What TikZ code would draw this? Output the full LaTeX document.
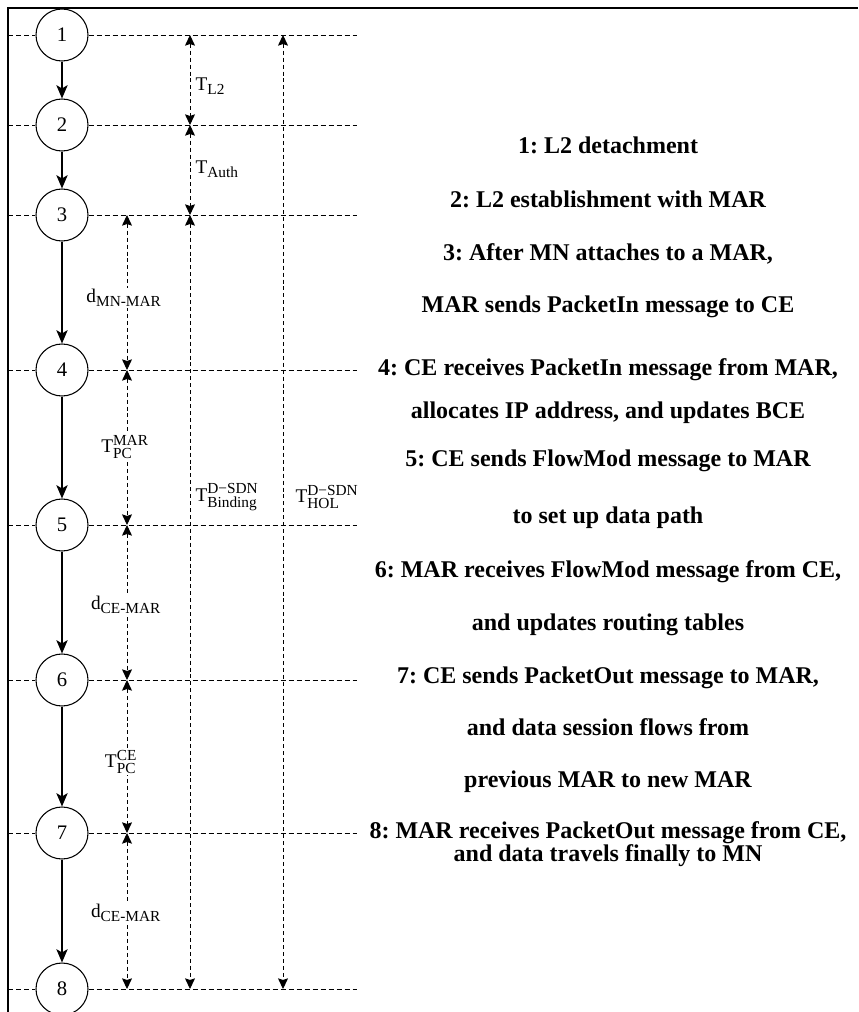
\documentclass[tikz,border=0pt]{standalone}
\usepackage{fontspec}
\setmainfont{Liberation Serif}
\usepackage{amsmath}
\usetikzlibrary{arrows.meta}
\usetikzlibrary{calc}
\newcommand{\sml}[1]{\hbox{\fontsize{11.5}{11.5}\selectfont #1}}
\frenchspacing

\begin{document}
\begin{tikzpicture}[x=0.75pt, y=-0.75pt,
    stage/.style={draw, circle, line width=0.8pt, minimum size=39pt, inner sep=0pt, font=\fontsize{15.5}{15.5}\selectfont},
    flow/.style={-{Stealth[length=10pt, width=8.5pt, inset=2.5pt]}, line width=0.8pt},
    level/.style={line width=0.7pt, dash pattern=on 3.8pt off 2.2pt},
    dim/.style={{Stealth[length=8pt, width=7.5pt, inset=1.2pt]}-{Stealth[length=8pt, width=7.5pt, inset=1.2pt]}, line width=0.7pt, dash pattern=on 3pt off 2.2pt},
    lab/.style={inner sep=1pt, font=\fontsize{14.5}{17}\selectfont},
    desc/.style={font=\fontsize{18}{20}\selectfont\bfseries, text height=12pt, text depth=4pt, inner sep=0pt}]
    \useasboundingbox (0,0) rectangle (858,1012);
    \draw[line width=1.3pt] (8,1012) -- (8,8) -- (858,8);

    % columns of the time spans
    \coordinate (lEnd) at (8,0);
    \coordinate (rEnd) at (357,0);
    \coordinate (colA) at (127,0);
    \coordinate (colB) at (190,0);
    \coordinate (colC) at (283,0);

    \foreach \i/\y in {1/35, 2/125, 3/215, 4/370, 5/525, 6/680, 7/833, 8/989} {
        \node[stage] (n\i) at (62,\y) {\i};
        \draw[level] (lEnd |- n\i) -- (n\i.west);
        \draw[level] (n\i.east) -- (rEnd |- n\i);
    }
    \foreach \a/\b in {1/2, 2/3, 3/4, 4/5, 5/6, 6/7, 7/8}
        \draw[flow] (n\a) -- (n\b);

    \foreach \a/\b in {3/4, 4/5, 5/6, 6/7, 7/8}
        \draw[dim] (colA |- n\a) -- (colA |- n\b);
    \foreach \a/\b in {1/2, 2/3, 3/8}
        \draw[dim] (colB |- n\a) -- (colB |- n\b);
    \draw[dim] (colC |- n1) -- (colC |- n8);

    \node[lab, anchor=west] (tL2) at (194,86) {$\textrm{T}_{\sml{L2}}$};
    \node[lab, anchor=west] (tAuth) at (194,169) {$\textrm{T}_{\sml{Auth}}$};
    \node[lab, fill=white] (dMnMar) at (124,298) {$\textrm{d}_{\sml{MN-MAR}}$};
    \node[lab, fill=white] (tPcMar) at (125,447) {$\textrm{T}^{\sml{MAR}}_{\sml{PC}}$};
    \node[lab, anchor=west] (tBind) at (194,497) {$\textrm{T}^{\sml{D−SDN}}_{\sml{Binding}}$};
    \node[lab, anchor=west] (tHol) at (294,497) {$\textrm{T}^{\sml{D−SDN}}_{\sml{HOL}}$};
    \node[lab, fill=white] (dCeMar) at (126,605) {$\textrm{d}_{\sml{CE-MAR}}$};
    \node[lab, fill=white] (tPcCe) at (121,762) {$\textrm{T}^{\sml{CE}}_{\sml{PC}}$};
    \node[lab, fill=white] (dCeMarB) at (126,913) {$\textrm{d}_{\sml{CE-MAR}}$};

    % step descriptions
    \foreach \k/\y/\t in {1/148/{1: L2 detachment},
                          2/202/{2: L2 establishment with MAR},
                          3/255/{3: After MN attaches to a MAR,},
                          4/307/{MAR sends PacketIn message to CE},
                          5/370/{4: CE receives PacketIn message from MAR,},
                          6/413/{allocates IP address, and updates BCE},
                          7/461/{5: CE sends FlowMod message to MAR},
                          8/518/{to set up data path},
                          9/572/{6: MAR receives FlowMod message from CE,},
                          10/625/{and updates routing tables},
                          11/678/{7: CE sends PacketOut message to MAR,},
                          12/730/{and data session flows from},
                          13/782/{previous MAR to new MAR},
                          14/833/{8: MAR receives PacketOut message from CE,},
                          15/856/{and data travels finally to MN}} {
        \node[desc] (txt\k) at (608,\y) {\t};
    }
\end{tikzpicture}
\end{document}
